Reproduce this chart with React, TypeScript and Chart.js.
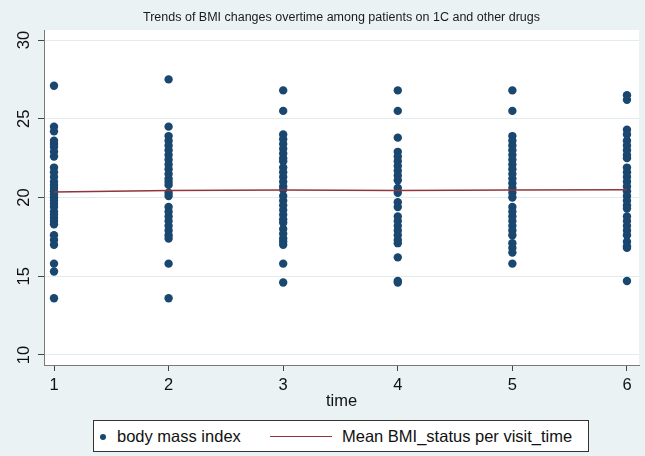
import React, { useEffect, useRef } from "react";
import { Chart, registerables } from "chart.js";

Chart.register(...registerables);

const times = [1, 2, 3, 4, 5, 6];
const xTicks = [1, 2, 3, 4, 5, 6];
const yTicks = [10, 15, 20, 25, 30];

const bmiTime1 = [27.1, 24.5, 24.2, 23.6, 23.4, 23.2, 22.9, 22.6, 21.9, 21.6, 21.3, 21.0, 20.8, 20.6, 20.4, 20.2, 20.0, 19.8, 19.6, 19.4, 19.1, 18.9, 18.7, 18.5, 18.3, 17.6, 17.3, 17.0, 15.8, 15.3, 13.6];
const bmiTime2 = [27.5, 24.5, 23.9, 23.6, 23.3, 23.0, 22.7, 22.4, 22.1, 21.8, 21.5, 21.2, 21.0, 20.8, 20.3, 20.1, 19.4, 19.1, 18.8, 18.5, 18.2, 17.9, 17.6, 17.4, 15.8, 13.6];
const bmiTime3 = [26.8, 25.5, 24.0, 23.7, 23.4, 23.1, 22.8, 22.5, 22.3, 21.9, 21.6, 21.3, 21.0, 20.7, 20.5, 20.1, 19.8, 19.5, 19.2, 18.9, 18.6, 18.4, 18.0, 17.7, 17.4, 17.2, 17.0, 15.8, 14.6];
const bmiTime4 = [26.8, 25.5, 23.8, 22.9, 22.6, 22.3, 22.0, 21.7, 21.4, 21.1, 20.6, 20.3, 19.7, 19.4, 18.8, 18.5, 18.2, 17.9, 17.6, 17.3, 17.1, 16.2, 14.7, 14.6];
const bmiTime5 = [26.8, 25.5, 23.9, 23.6, 23.3, 23.0, 22.7, 22.4, 22.1, 21.8, 21.5, 21.2, 20.9, 20.6, 20.3, 20.0, 19.4, 19.1, 18.8, 18.5, 18.2, 17.9, 17.6, 17.1, 16.8, 16.5, 15.8];
const bmiTime6 = [26.5, 26.2, 24.3, 24.0, 23.6, 23.3, 23.0, 22.7, 22.5, 21.9, 21.6, 21.3, 21.0, 20.7, 20.4, 20.1, 19.8, 19.5, 19.3, 18.8, 18.5, 18.2, 17.9, 17.6, 17.2, 16.9, 16.8, 14.7];

const meanBmi = [20.35, 20.45, 20.48, 20.44, 20.47, 20.5];

const FONT = '"Liberation Sans", Arial, sans-serif';
const BG = "#EAF2F3";
const NAVY = "#1A476F";
const MAROON = "#90353B";

const bgPlugin = {
  id: "stataBg",
  beforeDraw(chart: any) {
    const { ctx, chartArea } = chart;
    ctx.save();
    ctx.fillStyle = BG;
    ctx.fillRect(0, 0, chart.width, chart.height);
    ctx.fillStyle = "#ffffff";
    ctx.fillRect(chartArea.left, chartArea.top, chartArea.right - chartArea.left, chartArea.bottom - chartArea.top);
    ctx.restore();
  },
};

export default function App() {
  const ref = useRef<HTMLCanvasElement | null>(null);

  useEffect(() => {
    document.body.style.margin = "0";
    const columns = [bmiTime1, bmiTime2, bmiTime3, bmiTime4, bmiTime5, bmiTime6];
    const scatterData: { x: number; y: number }[] = [];
    columns.forEach((col, i) => col.forEach((v) => scatterData.push({ x: times[i], y: v })));
    const lineData = times.map((t, i) => ({ x: t, y: meanBmi[i] }));

    const chart = new Chart(ref.current as HTMLCanvasElement, {
      type: "scatter",
      data: {
        datasets: [
          {
            label: "body mass index",
            data: scatterData,
            backgroundColor: NAVY,
            borderColor: NAVY,
            borderWidth: 0,
            pointRadius: 4.2,
            pointHoverRadius: 4.2,
            order: 2,
          },
          {
            type: "line",
            label: "Mean BMI_status per visit_time",
            data: lineData,
            borderColor: MAROON,
            backgroundColor: MAROON,
            borderWidth: 1.5,
            pointRadius: 0,
            showLine: true,
            fill: false,
            tension: 0,
            order: 1,
          } as any,
        ],
      },
      options: {
        responsive: false,
        animation: false,
        layout: { padding: { left: 0, right: 6, top: 0, bottom: 0 } },
        plugins: {
          legend: { display: false },
          tooltip: { enabled: false },
          title: {
            display: true,
            text: "Trends of BMI changes overtime among patients on 1C and other drugs",
            fullSize: false,
            color: "#1a1a1a",
            font: { family: FONT, size: 12.5, weight: "normal" },
            padding: { top: 9.6, bottom: 5.4 },
          },
        },
        scales: {
          x: {
            type: "linear",
            min: 0.9127,
            max: 6.105,
            afterBuildTicks: (scale: any) => {
              scale.ticks = xTicks.map((v) => ({ value: v }));
            },
            afterFit: (scale: any) => {
              scale.height = 91;
            },
            grid: {
              display: true,
              drawOnChartArea: false,
              drawTicks: true,
              tickLength: 6,
              tickColor: "#444444",
            },
            border: { display: true, color: "#7a7a7a", width: 1 },
            ticks: {
              color: "#111111",
              font: { family: FONT, size: 16.5 },
              padding: 5,
              maxRotation: 0,
              minRotation: 0,
              autoSkip: false,
            },
            title: {
              display: true,
              text: "time",
              color: "#111111",
              font: { family: FONT, size: 16.5 },
              padding: { top: 0, bottom: 44.6 },
            },
          },
          y: {
            type: "linear",
            min: 9.365,
            max: 30.635,
            afterBuildTicks: (scale: any) => {
              scale.ticks = yTicks.map((v) => ({ value: v }));
            },
            afterFit: (scale: any) => {
              scale.width = 44;
            },
            grid: {
              display: true,
              drawOnChartArea: true,
              drawTicks: true,
              tickLength: 6,
              color: "#E2EBED",
              tickColor: "#444444",
              lineWidth: 1,
            },
            border: { display: true, color: "#7a7a7a", width: 1 },
            ticks: {
              color: "#111111",
              font: { family: FONT, size: 16.5 },
              padding: 4,
              minRotation: 90,
              maxRotation: 90,
              crossAlign: "center",
              autoSkip: false,
            },
          },
        },
      } as any,
      plugins: [bgPlugin],
    });
    return () => chart.destroy();
  }, []);

  const textStyle: React.CSSProperties = {
    position: "absolute",
    top: 426,
    height: 20,
    lineHeight: "20px",
    fontFamily: FONT,
    fontSize: "16.5px",
    color: "#111111",
    whiteSpace: "nowrap",
  };

  return (
    <div style={{ position: "fixed", left: 0, top: 0, width: 645, height: 456, background: BG, overflow: "hidden" }}>
      <canvas ref={ref} width={645} height={456} style={{ display: "block", width: 645, height: 456 }} />
      <div
        style={{
          position: "absolute",
          left: 93,
          top: 420,
          width: 496,
          height: 32,
          boxSizing: "border-box",
          border: "1px solid #333333",
          background: "#ffffff",
        }}
      />
      <div style={{ position: "absolute", left: 100, top: 433.5, width: 6, height: 6, borderRadius: "50%", background: NAVY }} />
      <span style={{ ...textStyle, left: 117 }}>body mass index</span>
      <div style={{ position: "absolute", left: 270, top: 435.5, width: 62, height: 1.5, background: MAROON }} />
      <span style={{ ...textStyle, left: 342 }}>Mean BMI_status per visit_time</span>
    </div>
  );
}
